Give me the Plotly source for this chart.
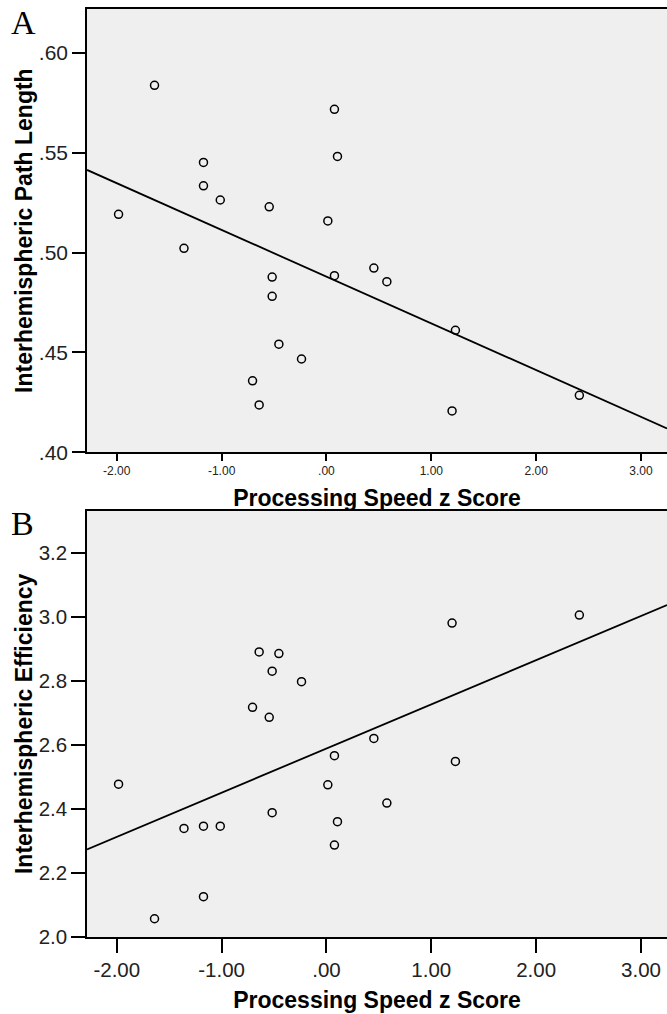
import numpy as np
import plotly.graph_objects as go

# ---- data ----
z_A = [-1.640, 0.076, 0.105, -1.173, -1.173, -1.013, -1.983, -0.546, 0.013, -1.359, -0.518,
       -0.518, 0.076, 0.452, 0.576, -0.454, -0.238, -0.705, -0.642, 1.230, 2.412, 1.198]
path_length = [0.5837, 0.5717, 0.5481, 0.5451, 0.5334, 0.5263, 0.5191, 0.5229, 0.5158, 0.5021, 0.4877,
               0.4781, 0.4884, 0.4922, 0.4854, 0.4541, 0.4467, 0.4358, 0.4237, 0.4611, 0.4285, 0.4207]

z_B = [-0.642, -0.454, -0.518, -0.238, -0.705, -0.546, 0.452, 0.076, -1.983, 0.013, 0.576,
       -0.518, 0.105, -1.359, -1.173, -1.013, 0.076, -1.173, -1.640, 1.230, 1.198, 2.412]
efficiency = [2.890, 2.885, 2.830, 2.797, 2.717, 2.686, 2.620, 2.566, 2.477, 2.475, 2.418,
              2.388, 2.360, 2.339, 2.346, 2.346, 2.287, 2.126, 2.057, 2.548, 2.980, 3.005]

x_tickvals = [-2, -1, 0, 1, 2, 3]
x_ticktext = ["-2.00", "-1.00", ".00", "1.00", "2.00", "3.00"]
yA_tickvals = [0.40, 0.45, 0.50, 0.55, 0.60]
yA_ticktext = [".40", ".45", ".50", ".55", ".60"]
yB_tickvals = [2.0, 2.2, 2.4, 2.6, 2.8, 3.0, 3.2]
yB_ticktext = ["2.0", "2.2", "2.4", "2.6", "2.8", "3.0", "3.2"]

x_range = [-2.284, 3.248]
yA_range = [0.40, 0.6219]
yB_range = [2.0, 3.331]

# ---- linear fits ----
kA = np.polyfit(z_A, path_length, 1)
kB = np.polyfit(z_B, efficiency, 1)
fit_x = np.array(x_range)

marker = dict(symbol="circle-open", size=8, color="black", line=dict(width=1.5, color="black"))
line = dict(color="black", width=1.8)

fig = go.Figure()
fig.add_trace(go.Scatter(x=z_A, y=path_length, mode="markers", marker=marker,
                         xaxis="x", yaxis="y", showlegend=False, cliponaxis=False))
fig.add_trace(go.Scatter(x=fit_x, y=np.polyval(kA, fit_x), mode="lines", line=line,
                         xaxis="x", yaxis="y", showlegend=False))
fig.add_trace(go.Scatter(x=z_B, y=efficiency, mode="markers", marker=marker,
                         xaxis="x2", yaxis="y2", showlegend=False, cliponaxis=False))
fig.add_trace(go.Scatter(x=fit_x, y=np.polyval(kB, fit_x), mode="lines", line=line,
                         xaxis="x2", yaxis="y2", showlegend=False))

sans = "Liberation Sans, Arial, sans-serif"
title_font = dict(family=sans, size=23, color="black", weight="bold")

common_axis = dict(showline=True, linecolor="black", linewidth=1.5, showgrid=False,
                   zeroline=False, ticks="outside", tickcolor="black", tickwidth=1.5)

fig.update_layout(
    width=667, height=1014,
    margin=dict(l=87, r=0, t=9, b=77),
    paper_bgcolor="white", plot_bgcolor="#efefef",
    xaxis=dict(domain=[0, 1], range=x_range, anchor="y", tickvals=x_tickvals, ticktext=x_ticktext,
               ticklen=7, tickfont=dict(family=sans, size=12, color="#222"), mirror=True,
               title=dict(text="Processing Speed z Score", font=title_font, standoff=12),
               **common_axis),
    yaxis=dict(domain=[0.5223, 1], range=yA_range, anchor="x", tickvals=yA_tickvals,
               ticktext=yA_ticktext, ticklen=13, tickfont=dict(family=sans, size=21, color="#222"),
               title=dict(text="Interhemispheric Path Length", font=title_font, standoff=0),
               **common_axis),
    xaxis2=dict(domain=[0, 1], range=x_range, anchor="y2", tickvals=x_tickvals, ticktext=x_ticktext,
                ticklen=14, tickfont=dict(family=sans, size=20.5, color="#222"), mirror=True,
                title=dict(text="Processing Speed z Score", font=title_font, standoff=12),
                **common_axis),
    yaxis2=dict(domain=[0, 0.4594], range=yB_range, anchor="x2", tickvals=yB_tickvals,
                ticktext=yB_ticktext, ticklen=14, tickfont=dict(family=sans, size=20.5, color="#222"),
                title=dict(text="Interhemispheric Efficiency", font=title_font, standoff=0),
                **common_axis),
    annotations=[
        dict(text="A", xref="paper", yref="paper", x=-0.135, y=1.008, xanchor="left", yanchor="top",
             showarrow=False, font=dict(family="Liberation Serif, serif", size=34, color="black")),
        dict(text="B", xref="paper", yref="paper", x=-0.135, y=0.468, xanchor="left", yanchor="top",
             showarrow=False, font=dict(family="Liberation Serif, serif", size=34, color="black")),
    ],
)

fig.write_html("out.html", config={"displayModeBar": False},
               post_script="document.body.style.margin='0';document.body.style.overflow='hidden';")
